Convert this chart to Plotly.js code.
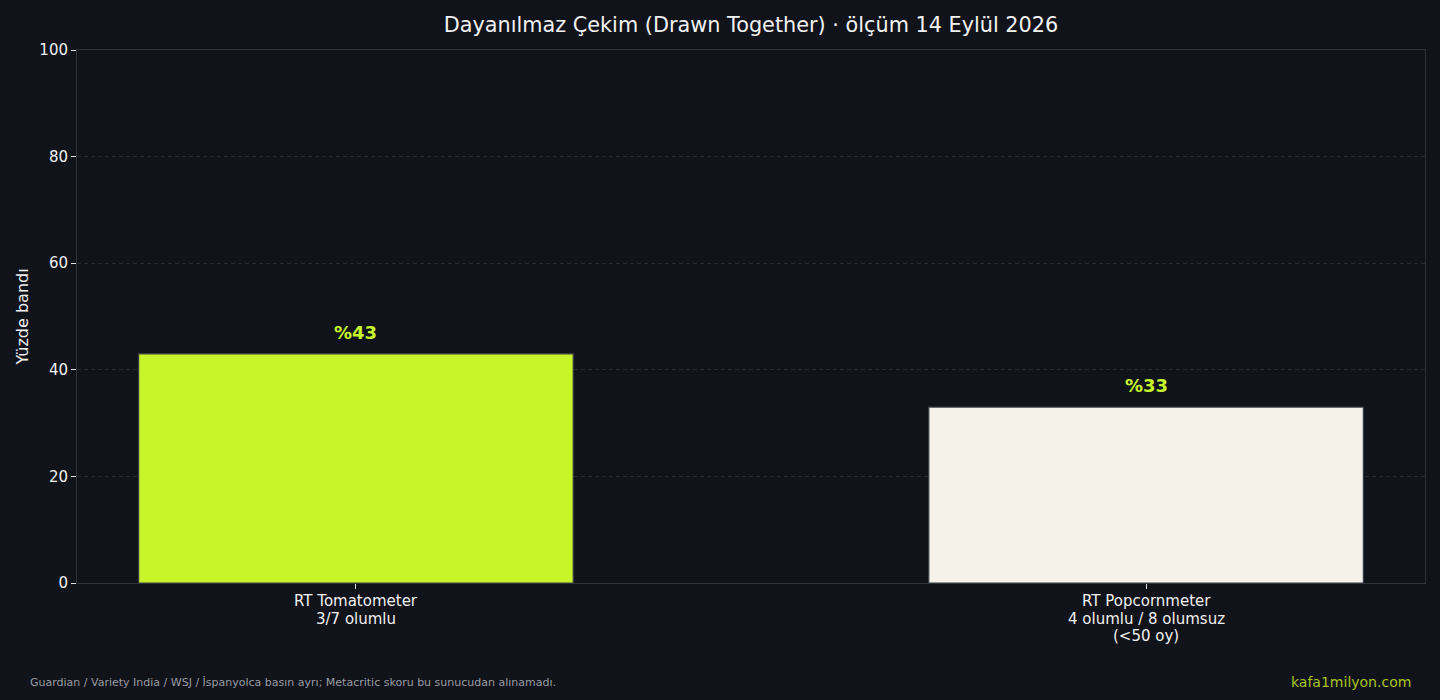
<!DOCTYPE html>
<html><head><meta charset="utf-8">
<script src="https://cdn.plot.ly/plotly-3.0.1.min.js"></script>
<style>html,body{margin:0;padding:0;background:#10131a;}#c{width:1440px;height:700px;}</style>
</head><body><div id="c"></div>
<script>
const categories = [
  ["RT Tomatometer", "3/7 olumlu"],
  ["RT Popcornmeter", "4 olumlu / 8 olumsuz", "(<50 oy)"]
];
const values = [43, 33];
const labels = ["%43", "%33"];
const barColors = ["#c8f52a", "#f5f2ea"];
const yTicks = [0, 20, 40, 60, 80, 100];

const font = "DejaVu Sans, sans-serif";
const data = [{
  type: "bar",
  x: [0, 1],
  y: values,
  width: 0.55,
  marker: {color: barColors, line: {color: "#3a3f47", width: 1.2}},
  hoverinfo: "none"
}];
const annotations = values.map((v, i) => ({
  x: i, y: v, xref: "x", yref: "y", text: "<b>" + labels[i] + "</b>",
  showarrow: false, yanchor: "bottom", yshift: 9,
  font: {family: font, size: 18, color: "#c8f52a"}
}));
categories.forEach((lines, i) => {
  lines.forEach((ln, k) => {
    annotations.push({
      x: i, y: 0, xref: "x", yref: "paper", text: ln, showarrow: false,
      yanchor: "middle", yshift: -(18 + 17.5 * k),
      font: {family: font, size: 15, color: "#f0f0f0"}
    });
  });
});
annotations.push({
  xref: "paper", yref: "paper", x: -0.036, y: -0.187, xanchor: "left", yanchor: "middle",
  text: "Guardian / Variety India / WSJ / İspanyolca basın ayrı; Metacritic skoru bu sunucudan alınamadı.",
  showarrow: false, font: {family: font, size: 11, color: "#9a9ca2"}
});
annotations.push({
  xref: "paper", yref: "paper", x: 0.991, y: -0.185, xanchor: "right", yanchor: "middle",
  text: "kafa1milyon.com", showarrow: false, font: {family: font, size: 14, color: "#a9c51f"}
});
const layout = {
  width: 1440, height: 700,
  paper_bgcolor: "#10131a", plot_bgcolor: "#10131a",
  margin: {l: 77, r: 15, t: 50, b: 117},
  title: {text: "Dayanılmaz Çekim (Drawn Together) · ölçüm 14 Eylül 2026", xref: "paper", x: 0.5, xanchor: "center", y: 0.964, yanchor: "middle",
    font: {family: font, size: 20.8, color: "#f2f2f2"}},
  showlegend: false,
  xaxis: {range: [-0.353, 1.353], tickvals: [0, 1], ticktext: ["", ""],
    ticks: "outside", ticklen: 5, tickcolor: "#e0e0e0", tickwidth: 1,
    showgrid: false, zeroline: false, showline: true, linecolor: "#2f333a", linewidth: 1, mirror: true,
    tickfont: {family: font, size: 15, color: "#f0f0f0"}},
  yaxis: {range: [0, 100], tickvals: yTicks, ticks: "outside", ticklen: 5, tickcolor: "#e0e0e0", tickwidth: 1,
    showgrid: true, gridcolor: "#262a32", griddash: "4px,3px", gridwidth: 1, zeroline: false,
    showline: true, linecolor: "#2f333a", linewidth: 1, mirror: true,
    tickfont: {family: font, size: 15, color: "#f0f0f0"},
    title: {text: "Yüzde bandı", standoff: 6, font: {family: font, size: 16, color: "#f0f0f0"}}},
  annotations: annotations
};
Plotly.newPlot("c", data, layout, {displayModeBar: false, staticPlot: true});
</script></body></html>
